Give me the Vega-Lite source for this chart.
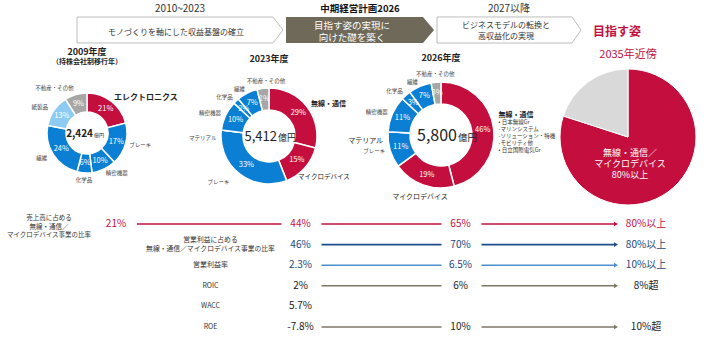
{
  "$schema": "https://vega.github.io/schema/vega-lite/v6.json",
  "width": 720,
  "height": 337,
  "autosize": "none",
  "padding": 0,
  "background": "white",
  "config": {"view": {"stroke": null}, "font": "Noto Sans CJK JP"},
  "datasets": {
    "stages": [
      {"start": 2010, "period": "2010~2023", "theme": ["モノづくりを軸にした収益基盤の確立"]},
      {"start": 2024, "period": "中期経営計画2026", "theme": ["目指す姿の実現に", "向けた礎を築く"]},
      {"start": 2027, "period": "2027以降", "theme": ["ビジネスモデルの転換と", "高収益化の実現"]},
      {"start": 2035, "period": "", "theme": ["目指す姿"]}
    ],
    "segments": [
      {"year": 2009, "i": 1, "seg": "エレクトロニクス", "v": 21, "pct": "21%"},
      {"year": 2009, "i": 2, "seg": "ブレーキ", "v": 17, "pct": "17%"},
      {"year": 2009, "i": 3, "seg": "精密機器", "v": 10, "pct": "10%"},
      {"year": 2009, "i": 4, "seg": "化学品", "v": 6, "pct": "6%"},
      {"year": 2009, "i": 5, "seg": "繊維", "v": 24, "pct": "24%"},
      {"year": 2009, "i": 6, "seg": "紙製品", "v": 13, "pct": "13%"},
      {"year": 2009, "i": 7, "seg": "不動産・その他", "v": 9, "pct": "9%"},
      {"year": 2023, "i": 1, "seg": "無線・通信", "v": 29, "pct": "29%"},
      {"year": 2023, "i": 2, "seg": "マイクロデバイス", "v": 15, "pct": "15%"},
      {"year": 2023, "i": 3, "seg": "ブレーキ", "v": 33, "pct": "33%"},
      {"year": 2023, "i": 4, "seg": "マテリアル", "v": 0, "pct": ""},
      {"year": 2023, "i": 5, "seg": "精密機器", "v": 10, "pct": "10%"},
      {"year": 2023, "i": 6, "seg": "化学品", "v": 2, "pct": "2%"},
      {"year": 2023, "i": 7, "seg": "繊維", "v": 7, "pct": "7%"},
      {"year": 2023, "i": 8, "seg": "不動産・その他", "v": 4, "pct": "1%"},
      {"year": 2026, "i": 1, "seg": "無線・通信", "v": 46, "pct": "46%", "note": ["• 日本無線Gr", "　-マリンシステム", "　-ソリューション・特機", "　-モビリティ他", "• 日立国際電気Gr"]},
      {"year": 2026, "i": 2, "seg": "マイクロデバイス", "v": 19, "pct": "19%"},
      {"year": 2026, "i": 3, "seg": "ブレーキ", "v": 11, "pct": "11%"},
      {"year": 2026, "i": 4, "seg": "マテリアル", "v": 0, "pct": ""},
      {"year": 2026, "i": 5, "seg": "精密機器", "v": 11, "pct": "11%"},
      {"year": 2026, "i": 6, "seg": "化学品", "v": 3, "pct": "3%"},
      {"year": 2026, "i": 7, "seg": "繊維", "v": 7, "pct": "7%"},
      {"year": 2026, "i": 8, "seg": "不動産・その他", "v": 3, "pct": "3%"},
      {"year": 2035, "i": 1, "seg": "無線・通信／マイクロデバイス", "v": 80, "pct": "80%以上"},
      {"year": 2035, "i": 2, "seg": "その他", "v": 20, "pct": ""}
    ],
    "donuts": [
      {"year": 2009, "title": "2009年度", "subtitle": "（持株会社制移行年）", "total": "2,424", "unit": "億円"},
      {"year": 2023, "title": "2023年度", "total": "5,412", "unit": "億円"},
      {"year": 2026, "title": "2026年度", "total": "5,800", "unit": "億円"},
      {"year": 2035, "title": "2035年近傍", "note": ["無線・通信／", "マイクロデバイス", "80%以上"]}
    ],
    "metrics": [
      {"metric": "売上高比率", "since": 2009, "label": ["売上高に占める", "無線・通信／", "マイクロデバイス事業の比率"]},
      {"metric": "営業利益比率", "since": 2023, "label": ["営業利益に占める", "無線・通信／マイクロデバイス事業の比率"]},
      {"metric": "営業利益率", "since": 2023, "label": ["営業利益率"]},
      {"metric": "ROIC", "since": 2023, "label": ["ROIC"]},
      {"metric": "WACC", "since": 2023, "label": ["WACC"]},
      {"metric": "ROE", "since": 2023, "label": ["ROE"]}
    ],
    "kpi": [
      {"metric": "売上高比率", "year": 2009, "value": "21%"},
      {"metric": "売上高比率", "year": 2023, "value": "44%"},
      {"metric": "売上高比率", "year": 2026, "value": "65%"},
      {"metric": "売上高比率", "year": 2035, "value": "80%以上"},
      {"metric": "営業利益比率", "year": 2023, "value": "46%"},
      {"metric": "営業利益比率", "year": 2026, "value": "70%"},
      {"metric": "営業利益比率", "year": 2035, "value": "80%以上"},
      {"metric": "営業利益率", "year": 2023, "value": "2.3%"},
      {"metric": "営業利益率", "year": 2026, "value": "6.5%"},
      {"metric": "営業利益率", "year": 2035, "value": "10%以上"},
      {"metric": "ROIC", "year": 2023, "value": "2%"},
      {"metric": "ROIC", "year": 2026, "value": "6%"},
      {"metric": "ROIC", "year": 2035, "value": "8%超"},
      {"metric": "WACC", "year": 2023, "value": "5.7%"},
      {"metric": "ROE", "year": 2023, "value": "-7.8%"},
      {"metric": "ROE", "year": 2026, "value": "10%"},
      {"metric": "ROE", "year": 2035, "value": "10%超"}
    ],
    "links": [
      {"metric": "売上高比率", "from": 2009, "to": 2023},
      {"metric": "売上高比率", "from": 2023, "to": 2026},
      {"metric": "売上高比率", "from": 2026, "to": 2035},
      {"metric": "営業利益比率", "from": 2023, "to": 2026},
      {"metric": "営業利益比率", "from": 2026, "to": 2035},
      {"metric": "営業利益率", "from": 2023, "to": 2026},
      {"metric": "営業利益率", "from": 2026, "to": 2035},
      {"metric": "ROIC", "from": 2023, "to": 2026},
      {"metric": "ROIC", "from": 2026, "to": 2035},
      {"metric": "ROE", "from": 2023, "to": 2026},
      {"metric": "ROE", "from": 2026, "to": 2035}
    ]
  },
  "resolve": {"scale": {"x": "independent", "y": "independent", "color": "independent", "theta": "independent", "stroke": "independent", "fill": "independent"}},
  "layer": [
    {
      "data": {"name": "stages"},
      "encoding": {
        "x": {"field": "start", "type": "quantitative", "axis": null, "scale": {"domain": [2010, 2024, 2027, 2035], "range": [180, 360, 509, 617], "nice": false, "zero": false}}
      },
      "layer": [
        {
          "transform": [{"filter": "datum.start == 2010"}],
          "mark": {"type": "point", "shape": "M-1,-0.126L0.903,-0.126L1,0L0.903,0.126L-1,0.126Z", "size": 42436, "filled": true, "fill": "white", "stroke": "#bdbdbd", "strokeWidth": 1, "opacity": 1},
          "encoding": {"y": {"datum": "方針", "type": "nominal", "axis": null, "scale": {"type": "point", "domain": ["期間", "方針"], "range": [9, 30], "padding": 0}}}
        },
        {
          "transform": [{"filter": "datum.start == 2024"}],
          "mark": {"type": "point", "shape": "M-1,-0.176L0.851,-0.176L1,0L0.851,0.176L-1,0.176Z", "size": 21904, "filled": true, "fill": "#6e6958", "strokeWidth": 0, "opacity": 1},
          "encoding": {"y": {"datum": "方針", "type": "nominal", "axis": null, "scale": {"type": "point", "domain": ["期間", "方針"], "range": [9, 30], "padding": 0}}}
        },
        {
          "transform": [{"filter": "datum.start == 2027"}],
          "mark": {"type": "point", "shape": "M-1,-0.181L0.875,-0.181L1,0L0.875,0.181L-1,0.181Z", "size": 20736, "filled": true, "fill": "white", "stroke": "#bdbdbd", "strokeWidth": 1, "opacity": 1},
          "encoding": {"y": {"datum": "方針", "type": "nominal", "axis": null, "scale": {"type": "point", "domain": ["期間", "方針"], "range": [9, 30], "padding": 0}}}
        },
        {
          "transform": [{"filter": "datum.start == 2010 || datum.start == 2027"}],
          "mark": {"type": "text", "fontSize": 10, "color": "#333333"},
          "encoding": {
            "y": {"datum": "期間", "type": "nominal", "axis": null, "scale": {"type": "point", "domain": ["期間", "方針"], "range": [9, 30], "padding": 0}},
            "text": {"field": "period", "type": "nominal"}
          }
        },
        {
          "transform": [{"filter": "datum.start == 2024"}],
          "mark": {"type": "text", "fontSize": 9.5, "fontWeight": "bold", "color": "#111111"},
          "encoding": {
            "y": {"datum": "期間", "type": "nominal", "axis": null, "scale": {"type": "point", "domain": ["期間", "方針"], "range": [9, 30], "padding": 0}},
            "text": {"field": "period", "type": "nominal"}
          }
        },
        {
          "transform": [{"filter": "datum.start == 2010"}],
          "mark": {"type": "text", "fontSize": 8, "color": "#333333", "dx": -4, "dy": 3},
          "encoding": {
            "y": {"datum": "方針", "type": "nominal", "axis": null, "scale": {"type": "point", "domain": ["期間", "方針"], "range": [9, 30], "padding": 0}},
            "text": {"field": "theme", "type": "nominal"}
          }
        },
        {
          "transform": [{"filter": "datum.start == 2027"}],
          "mark": {"type": "text", "fontSize": 8, "lineHeight": 11, "color": "#333333", "dx": -3, "dy": -4},
          "encoding": {
            "y": {"datum": "方針", "type": "nominal", "axis": null, "scale": {"type": "point", "domain": ["期間", "方針"], "range": [9, 30], "padding": 0}},
            "text": {"field": "theme", "type": "nominal"}
          }
        },
        {
          "transform": [{"filter": "datum.start == 2024"}],
          "mark": {"type": "text", "fontSize": 9.5, "lineHeight": 11.5, "color": "white", "dx": -8, "dy": -4},
          "encoding": {
            "y": {"datum": "方針", "type": "nominal", "axis": null, "scale": {"type": "point", "domain": ["期間", "方針"], "range": [9, 30], "padding": 0}},
            "text": {"field": "theme", "type": "nominal"}
          }
        },
        {
          "transform": [{"filter": "datum.start == 2035"}],
          "mark": {"type": "text", "fontSize": 12, "fontWeight": "bold", "color": "#c40f3e", "dy": 1.5},
          "encoding": {
            "y": {"datum": "方針", "type": "nominal", "axis": null, "scale": {"type": "point", "domain": ["期間", "方針"], "range": [9, 30], "padding": 0}},
            "text": {"field": "theme", "type": "nominal"}
          }
        }
      ]
    },
    {
      "encoding": {
        "x": {"field": "year", "type": "quantitative", "axis": null, "scale": {"domain": [2009, 2023, 2026, 2035], "range": [87, 269, 441, 628], "nice": false, "zero": false}},
        "y": {"field": "year", "type": "quantitative", "axis": null, "scale": {"domain": [2009, 2023, 2026, 2035], "range": [133, 136, 135, 137], "nice": false, "zero": false}}
      },
      "layer": [
        {
          "data": {"name": "segments"},
          "transform": [{"filter": "datum.year == 2009"}],
          "encoding": {
            "theta": {"field": "v", "type": "quantitative", "stack": true, "scale": {"domain": [0, 100]}},
            "order": {"field": "i", "type": "quantitative"}
          },
          "layer": [
            {
              "mark": {"type": "arc", "outerRadius": 40, "innerRadius": 21, "stroke": "white", "strokeWidth": 1.5},
              "encoding": {"color": {"field": "seg", "type": "nominal", "legend": null, "scale": {"domain": ["エレクトロニクス", "無線・通信", "マイクロデバイス", "ブレーキ", "マテリアル", "精密機器", "化学品", "繊維", "紙製品", "不動産・その他", "無線・通信／マイクロデバイス", "その他"], "range": ["#c40f3e", "#c40f3e", "#c40f3e", "#0b7fd4", "#0b7fd4", "#0b7fd4", "#0b7fd4", "#0b7fd4", "#8ecbf2", "#a6a6a6", "#c40f3e", "#d9d9d9"]}}}
            },
            {"mark": {"type": "text", "radius": 30.5, "color": "white", "fontSize": 7.5}, "encoding": {"text": {"field": "pct", "type": "nominal"}}},
            {"mark": {"type": "text", "radius": 44, "align": "left", "fontSize": 8, "fontWeight": "bold", "color": "#222222"}, "encoding": {"text": {"condition": {"test": "datum.seg === 'エレクトロニクス'", "field": "seg", "type": "nominal"}, "value": ""}}},
            {"mark": {"type": "text", "radius": 44, "align": "left", "fontSize": 5.5, "color": "#444444"}, "encoding": {"text": {"condition": {"test": "indexof(['ブレーキ','精密機器'], datum.seg) >= 0", "field": "seg", "type": "nominal"}, "value": ""}}},
            {"mark": {"type": "text", "radius": 47, "align": "center", "fontSize": 5.5, "color": "#444444"}, "encoding": {"text": {"condition": {"test": "datum.seg === '化学品'", "field": "seg", "type": "nominal"}, "value": ""}}},
            {"mark": {"type": "text", "radius": 47, "align": "right", "fontSize": 5.5, "color": "#444444"}, "encoding": {"text": {"condition": {"test": "indexof(['繊維','紙製品','不動産・その他'], datum.seg) >= 0", "field": "seg", "type": "nominal"}, "value": ""}}}
          ]
        },
        {
          "data": {"name": "segments"},
          "transform": [{"filter": "datum.year == 2023"}],
          "encoding": {
            "theta": {"field": "v", "type": "quantitative", "stack": true, "scale": {"domain": [0, 100]}},
            "order": {"field": "i", "type": "quantitative"}
          },
          "layer": [
            {
              "mark": {"type": "arc", "outerRadius": 48, "innerRadius": 26, "stroke": "white", "strokeWidth": 1.5},
              "encoding": {"color": {"field": "seg", "type": "nominal", "legend": null, "scale": {"domain": ["エレクトロニクス", "無線・通信", "マイクロデバイス", "ブレーキ", "マテリアル", "精密機器", "化学品", "繊維", "紙製品", "不動産・その他", "無線・通信／マイクロデバイス", "その他"], "range": ["#c40f3e", "#c40f3e", "#c40f3e", "#0b7fd4", "#0b7fd4", "#0b7fd4", "#0b7fd4", "#0b7fd4", "#8ecbf2", "#a6a6a6", "#c40f3e", "#d9d9d9"]}}}
            },
            {"mark": {"type": "text", "radius": 37, "color": "white", "fontSize": 7.5}, "encoding": {"text": {"field": "pct", "type": "nominal"}}},
            {"mark": {"type": "text", "radius": 53, "align": "left", "fontSize": 7, "fontWeight": "bold", "color": "#222222"}, "encoding": {"text": {"condition": {"test": "datum.seg === '無線・通信'", "field": "seg", "type": "nominal"}, "value": ""}}},
            {"mark": {"type": "text", "radius": 52, "align": "left", "fontSize": 6.5, "color": "#222222", "dx": -10, "dy": 7}, "encoding": {"text": {"condition": {"test": "datum.seg === 'マイクロデバイス'", "field": "seg", "type": "nominal"}, "value": ""}}},
            {"mark": {"type": "text", "radius": 53, "align": "right", "fontSize": 5.5, "color": "#444444"}, "encoding": {"text": {"condition": {"test": "indexof(['精密機器','化学品','繊維'], datum.seg) >= 0", "field": "seg", "type": "nominal"}, "value": ""}}},
            {"mark": {"type": "text", "radius": 58, "align": "right", "fontSize": 5.5, "color": "#444444", "dx": -4}, "encoding": {"text": {"condition": {"test": "datum.seg === 'ブレーキ'", "field": "seg", "type": "nominal"}, "value": ""}}},
            {"mark": {"type": "text", "radius": 53, "align": "right", "fontSize": 5.5, "color": "#444444", "dy": 9}, "encoding": {"text": {"condition": {"test": "datum.seg === 'マテリアル'", "field": "seg", "type": "nominal"}, "value": ""}}},
            {"mark": {"type": "text", "radius": 55, "align": "center", "fontSize": 5.5, "color": "#444444", "dx": 4}, "encoding": {"text": {"condition": {"test": "datum.seg === '不動産・その他'", "field": "seg", "type": "nominal"}, "value": ""}}}
          ]
        },
        {
          "data": {"name": "segments"},
          "transform": [{"filter": "datum.year == 2026"}],
          "encoding": {
            "theta": {"field": "v", "type": "quantitative", "stack": true, "scale": {"domain": [0, 100]}},
            "order": {"field": "i", "type": "quantitative"}
          },
          "layer": [
            {
              "mark": {"type": "arc", "outerRadius": 53, "innerRadius": 31, "stroke": "white", "strokeWidth": 1.5},
              "encoding": {"color": {"field": "seg", "type": "nominal", "legend": null, "scale": {"domain": ["エレクトロニクス", "無線・通信", "マイクロデバイス", "ブレーキ", "マテリアル", "精密機器", "化学品", "繊維", "紙製品", "不動産・その他", "無線・通信／マイクロデバイス", "その他"], "range": ["#c40f3e", "#c40f3e", "#c40f3e", "#0b7fd4", "#0b7fd4", "#0b7fd4", "#0b7fd4", "#0b7fd4", "#8ecbf2", "#a6a6a6", "#c40f3e", "#d9d9d9"]}}}
            },
            {"mark": {"type": "text", "radius": 42, "color": "white", "fontSize": 7.5}, "encoding": {"text": {"field": "pct", "type": "nominal"}}},
            {"mark": {"type": "text", "radius": 58, "align": "left", "fontSize": 7, "fontWeight": "bold", "color": "#222222", "dy": -13}, "encoding": {"text": {"condition": {"test": "datum.seg === '無線・通信'", "field": "seg", "type": "nominal"}, "value": ""}}},
            {"mark": {"type": "text", "radius": 58, "align": "left", "baseline": "top", "fontSize": 5.5, "lineHeight": 7, "color": "#333333", "dy": -8}, "encoding": {"text": {"condition": {"test": "isValid(datum.note)", "field": "note", "type": "nominal"}, "value": ""}}},
            {"mark": {"type": "text", "radius": 62, "align": "center", "fontSize": 7, "color": "#222222", "dy": 4}, "encoding": {"text": {"condition": {"test": "datum.seg === 'マイクロデバイス'", "field": "seg", "type": "nominal"}, "value": ""}}},
            {"mark": {"type": "text", "radius": 58, "align": "right", "fontSize": 5.5, "color": "#444444"}, "encoding": {"text": {"condition": {"test": "indexof(['ブレーキ','精密機器','化学品','繊維'], datum.seg) >= 0", "field": "seg", "type": "nominal"}, "value": ""}}},
            {"mark": {"type": "text", "radius": 58, "align": "right", "fontSize": 7, "color": "#222222", "dy": 10}, "encoding": {"text": {"condition": {"test": "datum.seg === 'マテリアル'", "field": "seg", "type": "nominal"}, "value": ""}}},
            {"mark": {"type": "text", "radius": 61, "align": "center", "fontSize": 5.5, "color": "#444444"}, "encoding": {"text": {"condition": {"test": "datum.seg === '不動産・その他'", "field": "seg", "type": "nominal"}, "value": ""}}}
          ]
        },
        {
          "data": {"name": "segments"},
          "transform": [{"filter": "datum.year == 2035"}],
          "mark": {"type": "arc", "outerRadius": 68, "innerRadius": 0, "stroke": "white", "strokeWidth": 1},
          "encoding": {
            "theta": {"field": "v", "type": "quantitative", "stack": true, "scale": {"domain": [0, 100]}},
            "order": {"field": "i", "type": "quantitative"},
            "color": {"field": "seg", "type": "nominal", "legend": null, "scale": {"domain": ["エレクトロニクス", "無線・通信", "マイクロデバイス", "ブレーキ", "マテリアル", "精密機器", "化学品", "繊維", "紙製品", "不動産・その他", "無線・通信／マイクロデバイス", "その他"], "range": ["#c40f3e", "#c40f3e", "#c40f3e", "#0b7fd4", "#0b7fd4", "#0b7fd4", "#0b7fd4", "#0b7fd4", "#8ecbf2", "#a6a6a6", "#c40f3e", "#d9d9d9"]}}
          }
        },
        {
          "data": {"name": "donuts"},
          "transform": [{"filter": "datum.year == 2023 || datum.year == 2026"}],
          "mark": {"type": "text", "fontSize": 9, "fontWeight": "bold", "color": "#222222", "dy": -77},
          "encoding": {"text": {"field": "title", "type": "nominal"}}
        },
        {
          "data": {"name": "donuts"},
          "transform": [{"filter": "datum.year == 2009"}],
          "mark": {"type": "text", "fontSize": 9, "fontWeight": "bold", "color": "#222222", "dy": -81},
          "encoding": {"text": {"field": "title", "type": "nominal"}}
        },
        {
          "data": {"name": "donuts"},
          "transform": [{"filter": "datum.year == 2009"}],
          "mark": {"type": "text", "fontSize": 7, "fontWeight": "bold", "color": "#222222", "dy": -71},
          "encoding": {"text": {"field": "subtitle", "type": "nominal"}}
        },
        {
          "data": {"name": "donuts"},
          "transform": [{"filter": "datum.year == 2035"}],
          "mark": {"type": "text", "fontSize": 11, "color": "#c40f3e", "dy": -82},
          "encoding": {"text": {"field": "title", "type": "nominal"}}
        },
        {
          "data": {"name": "donuts"},
          "transform": [{"filter": "datum.year == 2035"}],
          "mark": {"type": "text", "fontSize": 9, "lineHeight": 10.8, "color": "white", "dx": 2, "dy": 16},
          "encoding": {"text": {"field": "note", "type": "nominal"}}
        },
        {
          "data": {"name": "donuts"},
          "transform": [{"filter": "datum.year == 2009"}],
          "mark": {"type": "text", "fontSize": 10, "fontWeight": "bold", "align": "right", "baseline": "alphabetic", "color": "#222222", "dx": 6, "dy": 4},
          "encoding": {"text": {"field": "total", "type": "nominal"}}
        },
        {
          "data": {"name": "donuts"},
          "transform": [{"filter": "datum.year == 2009"}],
          "mark": {"type": "text", "fontSize": 5, "align": "left", "baseline": "alphabetic", "color": "#222222", "dx": 7, "dy": 4},
          "encoding": {"text": {"field": "unit", "type": "nominal"}}
        },
        {
          "data": {"name": "donuts"},
          "transform": [{"filter": "datum.year == 2023"}],
          "mark": {"type": "text", "fontSize": 13, "align": "right", "baseline": "alphabetic", "color": "#222222", "dx": 8, "dy": 5},
          "encoding": {"text": {"field": "total", "type": "nominal"}}
        },
        {
          "data": {"name": "donuts"},
          "transform": [{"filter": "datum.year == 2023"}],
          "mark": {"type": "text", "fontSize": 9, "align": "left", "baseline": "alphabetic", "color": "#222222", "dx": 9, "dy": 5},
          "encoding": {"text": {"field": "unit", "type": "nominal"}}
        },
        {
          "data": {"name": "donuts"},
          "transform": [{"filter": "datum.year == 2026"}],
          "mark": {"type": "text", "fontSize": 16, "align": "right", "baseline": "alphabetic", "color": "#222222", "dx": 16, "dy": 6},
          "encoding": {"text": {"field": "total", "type": "nominal"}}
        },
        {
          "data": {"name": "donuts"},
          "transform": [{"filter": "datum.year == 2026"}],
          "mark": {"type": "text", "fontSize": 9.5, "align": "left", "baseline": "alphabetic", "color": "#222222", "dx": 17, "dy": 6},
          "encoding": {"text": {"field": "unit", "type": "nominal"}}
        }
      ]
    },
    {
      "encoding": {
        "y": {"field": "metric", "type": "nominal", "axis": null, "scale": {"type": "point", "domain": ["売上高比率", "営業利益比率", "営業利益率", "ROIC", "WACC", "ROE"], "range": [224, 327], "padding": 0}}
      },
      "layer": [
        {
          "data": {"name": "links"},
          "transform": [{"filter": "datum.to != 2035"}],
          "mark": {"type": "rule", "strokeWidth": 1.6, "xOffset": 21, "x2Offset": -19},
          "encoding": {
            "x": {"field": "from", "type": "quantitative", "axis": null, "scale": {"domain": [2009, 2023, 2026, 2035], "range": [116, 300.5, 460.5, 646], "nice": false, "zero": false}},
            "x2": {"field": "to"},
            "stroke": {"field": "metric", "type": "nominal", "legend": null, "scale": {"domain": ["売上高比率", "営業利益比率", "営業利益率", "ROIC", "WACC", "ROE"], "range": ["#c40f3e", "#1f4e8c", "#4f8fcc", "#7d7866", "#7d7866", "#7d7866"]}}
          }
        },
        {
          "data": {"name": "links"},
          "transform": [{"filter": "datum.to == 2035"}],
          "mark": {"type": "rule", "strokeWidth": 1.6, "xOffset": 21, "x2Offset": -31},
          "encoding": {
            "x": {"field": "from", "type": "quantitative", "axis": null, "scale": {"domain": [2009, 2023, 2026, 2035], "range": [116, 300.5, 460.5, 646], "nice": false, "zero": false}},
            "x2": {"field": "to"},
            "stroke": {"field": "metric", "type": "nominal", "legend": null, "scale": {"domain": ["売上高比率", "営業利益比率", "営業利益率", "ROIC", "WACC", "ROE"], "range": ["#c40f3e", "#1f4e8c", "#4f8fcc", "#7d7866", "#7d7866", "#7d7866"]}}
          }
        },
        {
          "data": {"name": "links"},
          "transform": [{"filter": "datum.to == 2035"}],
          "mark": {"type": "point", "shape": "triangle-right", "size": 22, "filled": true, "opacity": 1, "xOffset": -30},
          "encoding": {
            "x": {"field": "to", "type": "quantitative", "axis": null, "scale": {"domain": [2009, 2023, 2026, 2035], "range": [116, 300.5, 460.5, 646], "nice": false, "zero": false}},
            "fill": {"field": "metric", "type": "nominal", "legend": null, "scale": {"domain": ["売上高比率", "営業利益比率", "営業利益率", "ROIC", "WACC", "ROE"], "range": ["#c40f3e", "#1f4e8c", "#4f8fcc", "#7d7866", "#7d7866", "#7d7866"]}}
          }
        },
        {
          "data": {"name": "kpi"},
          "mark": {"type": "text", "fontSize": 10},
          "encoding": {
            "x": {"field": "year", "type": "quantitative", "axis": null, "scale": {"domain": [2009, 2023, 2026, 2035], "range": [116, 300.5, 460.5, 646], "nice": false, "zero": false}},
            "text": {"field": "value", "type": "nominal"},
            "color": {"field": "metric", "type": "nominal", "legend": null, "scale": {"domain": ["売上高比率", "営業利益比率", "営業利益率", "ROIC", "WACC", "ROE"], "range": ["#c40f3e", "#1d4578", "#1d4578", "#222222", "#222222", "#222222"]}}
          }
        },
        {
          "data": {"name": "metrics"},
          "transform": [{"filter": "datum.since == 2009"}],
          "mark": {"type": "text", "fontSize": 6.5, "lineHeight": 8.5, "color": "#333333", "dx": -67, "dy": -6},
          "encoding": {
            "x": {"field": "since", "type": "quantitative", "axis": null, "scale": {"domain": [2009, 2023, 2026, 2035], "range": [116, 300.5, 460.5, 646], "nice": false, "zero": false}},
            "text": {"field": "label", "type": "nominal"}
          }
        },
        {
          "data": {"name": "metrics"},
          "transform": [{"filter": "datum.metric == '営業利益比率'"}],
          "mark": {"type": "text", "fontSize": 6.8, "lineHeight": 9, "color": "#333333", "dx": -90, "dy": -5},
          "encoding": {
            "x": {"field": "since", "type": "quantitative", "axis": null, "scale": {"domain": [2009, 2023, 2026, 2035], "range": [116, 300.5, 460.5, 646], "nice": false, "zero": false}},
            "text": {"field": "label", "type": "nominal"}
          }
        },
        {
          "data": {"name": "metrics"},
          "transform": [{"filter": "datum.since == 2023 && datum.metric != '営業利益比率'"}],
          "mark": {"type": "text", "fontSize": 7, "color": "#333333", "dx": -90},
          "encoding": {
            "x": {"field": "since", "type": "quantitative", "axis": null, "scale": {"domain": [2009, 2023, 2026, 2035], "range": [116, 300.5, 460.5, 646], "nice": false, "zero": false}},
            "text": {"field": "label", "type": "nominal"}
          }
        }
      ]
    }
  ]
}
